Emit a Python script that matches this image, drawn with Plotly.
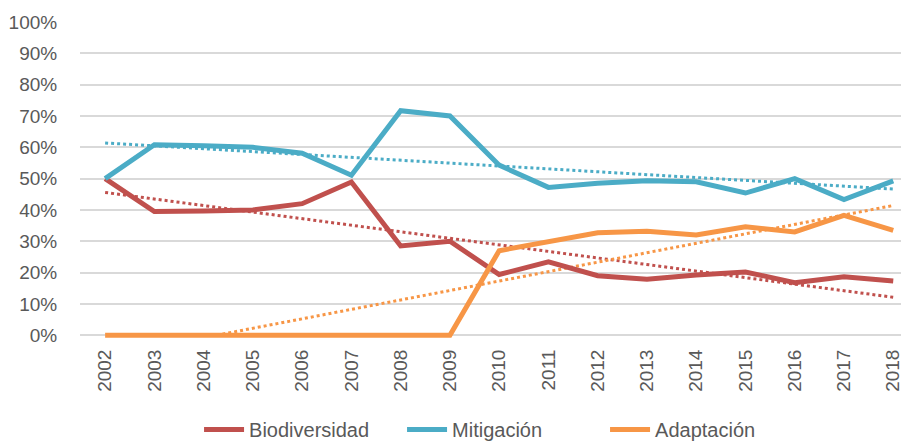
import numpy as np
import plotly.graph_objects as go

years = list(range(2002, 2019))
biodiversidad = [50.0, 39.5, 39.7, 40.0, 42.0, 48.9, 28.5, 30.0, 19.4, 23.4, 19.0, 17.9, 19.2, 20.2, 16.8, 18.7, 17.3]
mitigacion = [50.0, 60.8, 60.5, 60.0, 58.1, 51.1, 71.7, 70.0, 54.3, 47.2, 48.5, 49.3, 49.0, 45.4, 50.0, 43.3, 49.3]
adaptacion = [0, 0, 0, 0, 0, 0, 0, 0, 27.0, 29.8, 32.7, 33.2, 32.0, 34.6, 33.0, 38.3, 33.5]

names = ["Biodiversidad", "Mitigación", "Adaptación"]
colors = ["#C0504D", "#4BACC6", "#F79646"]
series = [biodiversidad, mitigacion, adaptacion]

FONT = "Liberation Sans, Arial, sans-serif"

fig = go.Figure()
x = np.array(years, dtype=float)
for name, col, vals in zip(names, colors, series):
    # linear trendline (least squares) drawn dotted, cut at the 0% floor
    m, b = np.polyfit(x, np.array(vals, dtype=float), 1)
    x0, x1 = x[0], x[-1]
    y0, y1 = m * x0 + b, m * x1 + b
    if y0 < 0:
        x0 = -b / m
        y0 = 0.0
    fig.add_trace(go.Scatter(x=[x0, x1], y=[y0, y1], mode="lines",
                             line=dict(color=col, width=3, dash="dot"),
                             showlegend=False, hoverinfo="skip"))

for name, col, vals in zip(names, colors, series):
    fig.add_trace(go.Scatter(x=years, y=vals, mode="lines", name=name,
                             line=dict(color=col, width=5)))

fig.update_layout(
    width=901, height=435,
    margin=dict(l=72, r=0, t=14, b=104),
    paper_bgcolor="white", plot_bgcolor="white",
    font=dict(family=FONT, size=19, color="#595959"),
    showlegend=True,
    legend=dict(orientation="h", xref="container", yref="container",
                x=0.55, xanchor="center", y=0.031, yanchor="middle",
                font=dict(family=FONT, size=20, color="#595959"),
                itemwidth=40, tracegroupgap=0, entrywidth=148, entrywidthmode="pixels"),
    xaxis=dict(range=[2001.49, 2018.32], tickmode="array", tickvals=years,
               ticktext=[str(y) for y in years], tickangle=-90,
               showgrid=False, zeroline=False, showline=False, automargin=False,
               ticks="outside", ticklen=2, tickcolor="rgba(0,0,0,0)",
               tickfont=dict(family=FONT, size=19, color="#595959")),
    yaxis=dict(range=[-1.2, 100], tickmode="array", tickvals=list(range(0, 101, 10)),
               ticktext=[f"{v}%" for v in range(0, 101, 10)],
               showgrid=True, gridcolor="#D9D9D9", gridwidth=2,
               zeroline=False, showline=False, automargin=False,
               ticks="outside", ticklen=18, tickcolor="rgba(0,0,0,0)",
               tickfont=dict(family=FONT, size=19, color="#595959")),
)

fig.write_html("out.html")
